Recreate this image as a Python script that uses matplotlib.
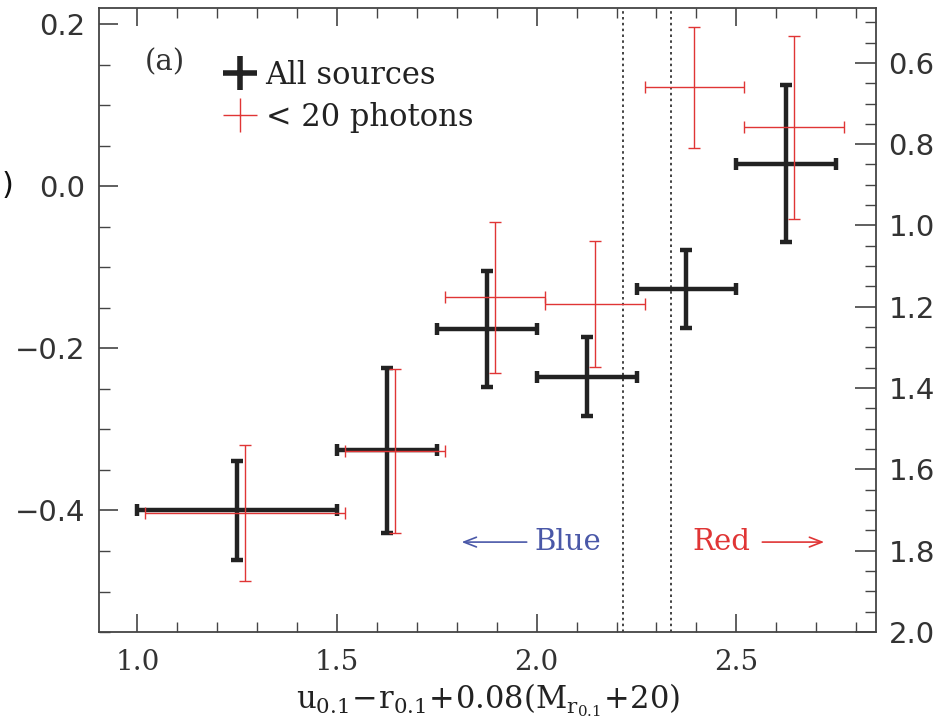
import matplotlib
matplotlib.use("Agg")
import matplotlib.pyplot as plt
from matplotlib.lines import Line2D
from matplotlib.ticker import MultipleLocator, FuncFormatter

plt.rcParams["mathtext.fontset"] = "dejavuserif"

# ---- data ----
all_x = [1.25, 1.625, 1.875, 2.125, 2.375, 2.625]
all_xerr = [0.25, 0.125, 0.125, 0.125, 0.125, 0.125]
all_y = [-0.400, -0.326, -0.176, -0.235, -0.127, 0.028]
all_yerr = [0.061, 0.102, 0.072, 0.049, 0.048, 0.097]

low_x = [1.27, 1.645, 1.895, 2.145, 2.395, 2.645]
low_xerr = [0.25, 0.125, 0.125, 0.125, 0.125, 0.125]
low_y = [-0.403, -0.327, -0.137, -0.145, 0.122, 0.073]
low_yerr = [0.084, 0.101, 0.093, 0.078, 0.075, 0.113]

divider_x = [2.216, 2.337]

x_ticks = [1.0, 1.5, 2.0, 2.5]
left_ticks = [-0.4, -0.2, 0.0, 0.2]
right_ticks = [0.6, 0.8, 1.0, 1.2, 1.4, 1.6, 1.8, 2.0]

legend_labels = ["All sources", "< 20 photons"]

BLACK = "#222222"
RED = "#e03535"
BLUE = "#4a58a8"
SPINE = "#444444"


def fmt(v, pos):
    s = "%.1f" % v
    if s.startswith("-"):
        s = "\u2212" + s[1:]
    if s == "\u22120.0":
        s = "0.0"
    return s


fig = plt.figure(figsize=(9.5, 7.24), dpi=100)
ax = fig.add_axes([0.1047, 0.127, 0.8175, 0.862])

ax.errorbar(all_x, all_y, xerr=all_xerr, yerr=all_yerr, fmt="none",
            ecolor=BLACK, elinewidth=3.2, capsize=4.3, capthick=3.2, zorder=3)
ax.errorbar(low_x, low_y, xerr=low_xerr, yerr=low_yerr, fmt="none",
            ecolor=RED, elinewidth=1.0, capsize=4.3, capthick=1.0, zorder=4)

for dx in divider_x:
    ax.axvline(dx, color=BLACK, lw=1.2, ls=(0, (1.5, 2.0)), zorder=2)

ax.set_xlim(0.905, 2.85)
ax.set_ylim(-0.55, 0.22)

ax.xaxis.set_major_locator(plt.FixedLocator(x_ticks))
ax.xaxis.set_minor_locator(MultipleLocator(0.1))
ax.yaxis.set_major_locator(plt.FixedLocator(left_ticks))
ax.yaxis.set_minor_locator(MultipleLocator(0.05))
ax.xaxis.set_major_formatter(FuncFormatter(fmt))
ax.yaxis.set_major_formatter(FuncFormatter(fmt))

ax.tick_params(axis="both", which="both", direction="in", colors=SPINE)
ax.tick_params(axis="x", which="both", top=True, bottom=True)
ax.tick_params(axis="y", which="both", left=True, right=False)
ax.tick_params(axis="x", which="major", length=13, width=1.2, pad=12, labelcolor="#333333")
ax.tick_params(axis="x", which="minor", length=7, width=1.0)
ax.tick_params(axis="y", which="major", length=14, width=1.2, pad=10, labelcolor="#333333")
ax.tick_params(axis="y", which="minor", length=8, width=1.0)

for lab in ax.get_xticklabels():
    lab.set_fontfamily("DejaVu Serif")
    lab.set_fontsize(20)
for lab in ax.get_yticklabels():
    lab.set_fontfamily("DejaVu Sans")
    lab.set_fontsize(21)

for sp in ax.spines.values():
    sp.set_color(SPINE)
    sp.set_linewidth(1.3)

ax2 = ax.twinx()
ax2.set_ylim(2.0, 0.465)
ax2.yaxis.set_major_locator(plt.FixedLocator(right_ticks))
ax2.yaxis.set_minor_locator(MultipleLocator(0.05))
ax2.yaxis.set_major_formatter(FuncFormatter(fmt))
ax2.tick_params(axis="y", which="both", direction="in", colors=SPINE)
ax2.tick_params(axis="y", which="major", length=15, width=1.2, pad=9, labelcolor="#333333")
ax2.tick_params(axis="y", which="minor", length=8, width=1.0)
for lab in ax2.get_yticklabels():
    lab.set_fontfamily("DejaVu Sans")
    lab.set_fontsize(21)
for sp in ax2.spines.values():
    sp.set_visible(False)

ax.set_xlabel(r"$\mathrm{u_{0.1}\!-\!r_{0.1}\!+\!0.08(M_{r_{0.1}}\!+\!20)}$",
              fontsize=22, labelpad=4, color="#222222")

ax.text(0.0586, 0.913, "(a)", transform=ax.transAxes, fontsize=21,
        family="DejaVu Serif", va="center", ha="left", color="#333333")

handles = [
    Line2D([], [], ls="none", marker="+", markersize=25, markeredgewidth=4.0, color=BLACK),
    Line2D([], [], ls="none", marker="+", markersize=25, markeredgewidth=1.0, color=RED),
]
leg = ax.legend(handles, legend_labels, loc="upper left", bbox_to_anchor=(0.143, 0.937),
                frameon=False, handlelength=1.1, handletextpad=0.3, labelspacing=0.36,
                borderaxespad=0.0, prop={"family": "DejaVu Serif", "size": 22})
for t in leg.get_texts():
    t.set_color("#222222")

# Blue / Red annotations
ax.annotate("", xy=(1.812, -0.439), xytext=(1.975, -0.439),
            arrowprops=dict(arrowstyle="->,head_length=0.9,head_width=0.35",
                            color=BLUE, lw=1.2, shrinkA=0, shrinkB=0))
ax.text(1.995, -0.439, "Blue", fontsize=21, family="DejaVu Serif", color=BLUE,
        va="center", ha="left")
ax.text(2.39, -0.439, "Red", fontsize=21, family="DejaVu Serif", color=RED,
        va="center", ha="left")
ax.annotate("", xy=(2.72, -0.439), xytext=(2.565, -0.439),
            arrowprops=dict(arrowstyle="->,head_length=0.9,head_width=0.35",
                            color=RED, lw=1.2, shrinkA=0, shrinkB=0))

# remnant of a label at the far left edge
fig.text(2 / 950, 1 - 185 / 724, ")", ha="left", va="center", fontsize=22,
         family="DejaVu Sans", color="#111111")

fig.savefig("out.png", dpi=100)
